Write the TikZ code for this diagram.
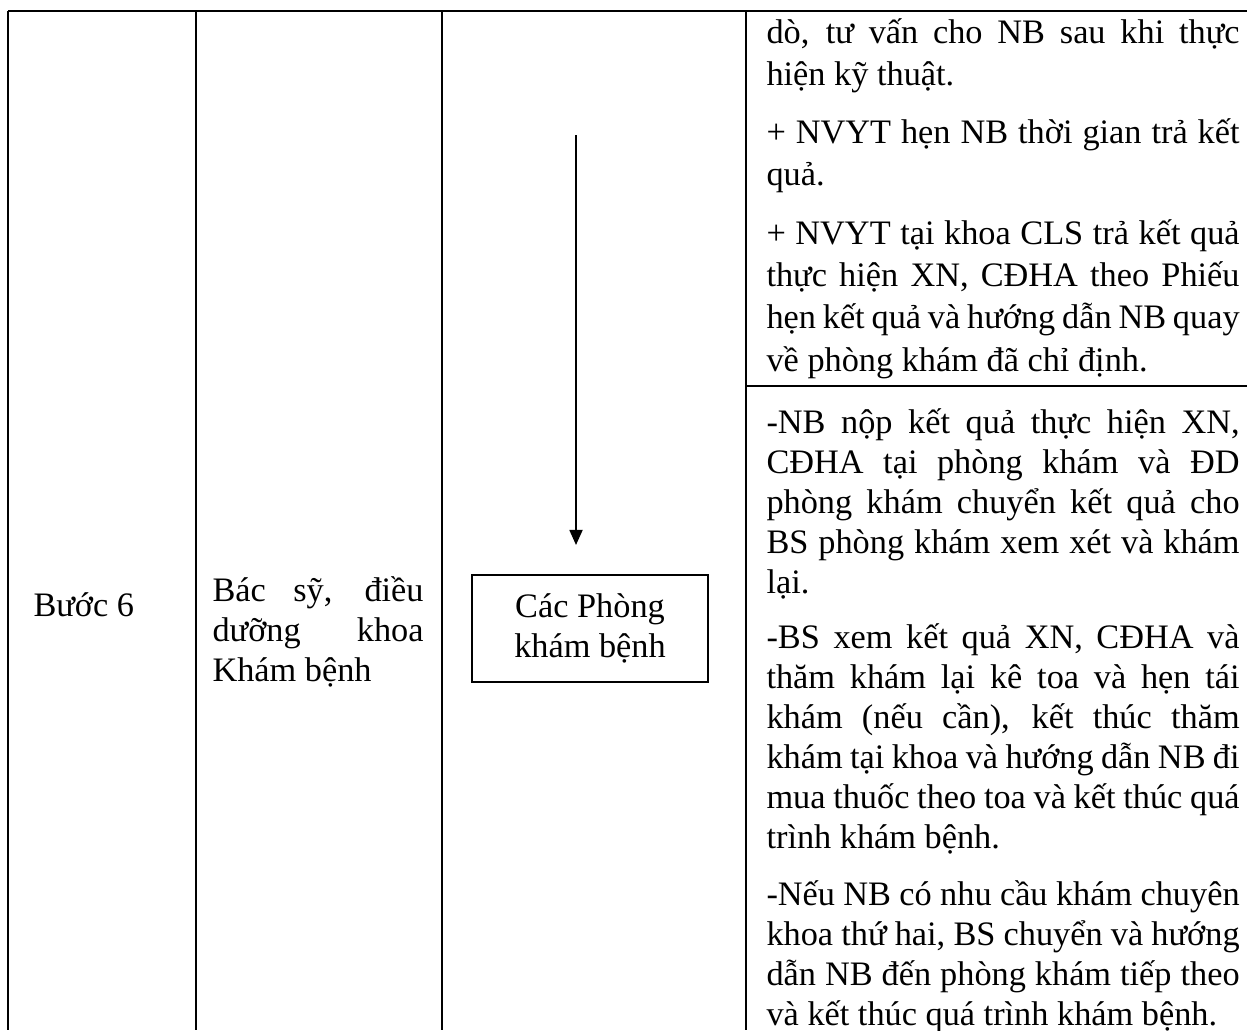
\documentclass[tikz,border=0pt]{standalone}
\usepackage{fontspec}
\setmainfont{Liberation Serif}
\usetikzlibrary{arrows.meta}

\begin{document}
\begin{tikzpicture}[x=0.379pt, y=-0.379pt, >={Triangle[length=5.7pt, width=4.9pt]},
    rule/.style={line width=0.75pt},
    para/.style={anchor=base west, inner sep=0pt, text width=179.3pt, align=justify,
      font=\fontsize{13}{16.1}\selectfont},
    paratwo/.style={para, font=\fontsize{13}{15.2}\selectfont},
    roombox/.style={draw, line width=0.5pt, minimum width=89.4pt, minimum height=40.6pt,
      inner sep=0pt, align=center, font=\fontsize{13}{15.2}\selectfont}]

    \useasboundingbox (0,0) rectangle (1247,1030);

    % -------------------------------------------------------
    % 1. Table rules
    % -------------------------------------------------------
    \draw[rule] (8,11) -- (1247,11);
    \foreach \xcol in {8, 196, 442, 746} {
      \draw[rule] (\xcol,11) -- (\xcol,1030);
    }
    \draw[rule] (746,386) -- (1247,386);

    % -------------------------------------------------------
    % 2. Left columns
    % -------------------------------------------------------
    \node[anchor=base west, inner sep=0pt, font=\fontsize{13}{15.2}\selectfont] (step) at (33,616) {Bước 6};
    \node[paratwo, text width=80pt] (staff) at (212,601)
      {Bác sỹ, điều\linebreak dưỡng khoa\linebreak Khám bệnh};

    % -------------------------------------------------------
    % 3. Flow column
    % -------------------------------------------------------
    \node[roombox] (room) at (590,628.5) {Các Phòng\\khám bệnh};
    \coordinate (arrtop) at (576,135);
    \coordinate (arrtip) at (576,545);
    \draw[->, line width=0.75pt] (arrtop) -- (arrtip);

    % -------------------------------------------------------
    % 4. Description column
    % -------------------------------------------------------
    \node[para] (desca) at (766,43)
      {dò, tư vấn cho NB sau khi thực\linebreak hiện kỹ thuật.};
    \node[para] (descb) at (766,143.5)
      {+ NVYT hẹn NB thời gian trả kết\linebreak quả.};
    \node[para] (descc) at (766,244)
      {+ NVYT tại khoa CLS trả kết quả\linebreak thực hiện XN, CĐHA theo Phiếu\linebreak
       hẹn kết quả và hướng dẫn NB quay\linebreak về phòng khám đã chỉ định.};

    \node[paratwo] (descd) at (766,433)
      {-NB nộp kết quả thực hiện XN,\linebreak CĐHA tại phòng khám và ĐD\linebreak
       phòng khám chuyển kết quả cho\linebreak BS phòng khám xem xét và khám\linebreak lại.};
    \node[paratwo] (desce) at (766,648)
      {-BS xem kết quả XN, CĐHA và\linebreak thăm khám lại kê toa và hẹn tái\linebreak
       khám (nếu cần), kết thúc thăm\linebreak khám tại khoa và hướng dẫn NB đi\linebreak
       mua thuốc theo toa và kết thúc quá\linebreak trình khám bệnh.};
    \node[paratwo] (descf) at (766,905)
      {-Nếu NB có nhu cầu khám chuyên\linebreak khoa thứ hai, BS chuyển và hướng\linebreak
       dẫn NB đến phòng khám tiếp theo\linebreak và kết thúc quá trình khám bệnh.};
\end{tikzpicture}
\end{document}
